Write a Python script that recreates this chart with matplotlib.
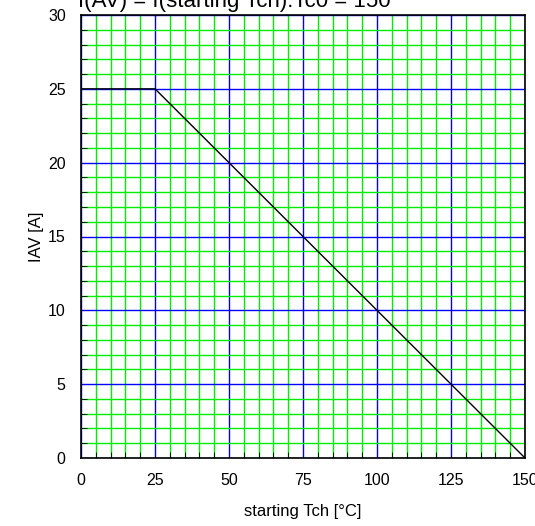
import matplotlib
matplotlib.use("Agg")
import matplotlib.pyplot as plt
from matplotlib.ticker import MultipleLocator

plt.rcParams['font.family'] = ['Liberation Sans', 'DejaVu Sans']

tch = [0, 25, 150]
iav = [25, 25, 0]
xticks = [0, 25, 50, 75, 100, 125, 150]
yticks = [0, 5, 10, 15, 20, 25, 30]

fig = plt.figure(figsize=(5.35, 5.26), dpi=100)
ax = fig.add_axes([81 / 535, 1 - 458 / 526, 444 / 535, 443 / 526])

ax.plot(tch, iav, color='black', linewidth=1.0, zorder=5)

ax.set_xlim(0, 150)
ax.set_ylim(0, 30)
ax.set_xticks(xticks)
ax.set_yticks(yticks)
ax.xaxis.set_minor_locator(MultipleLocator(5))
ax.yaxis.set_minor_locator(MultipleLocator(1))

ax.grid(which='minor', color='#00ee00', linewidth=1.0)
ax.grid(which='major', color='#0000ff', linewidth=1.0)
ax.set_axisbelow(True)

ax.tick_params(which='major', length=0, labelsize=11.5, pad=11)
ax.tick_params(which='minor', direction='in', length=4, color='black',
               top=False, right=False)
for s in ax.spines.values():
    s.set_color('black')
    s.set_linewidth(1.2)
    s.set_zorder(6)

ax.set_xlabel('starting Tch [°C]', fontsize=12, labelpad=11)
ax.set_ylabel('IAV [A]', fontsize=12, labelpad=3)

fig.text(78 / 535, 1 - 7 / 526, 'I(AV) = f(starting Tch):Tc0 = 150',
         fontsize=16, ha='left', va='baseline')

fig.savefig('out.png', dpi=100)
